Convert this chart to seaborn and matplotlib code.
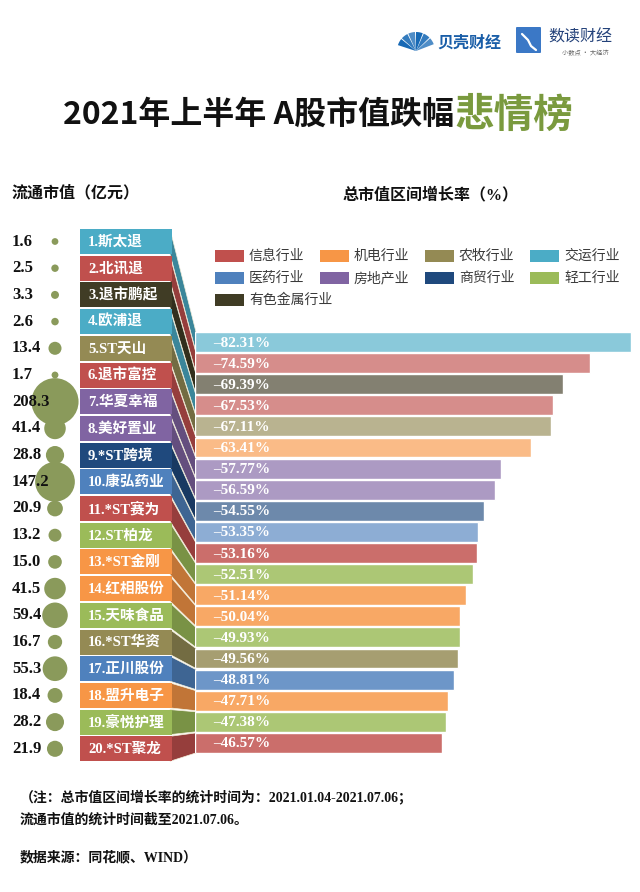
import matplotlib
matplotlib.use("Agg")
import matplotlib.pyplot as plt
import matplotlib.colors as mcolors
from matplotlib.patches import Rectangle, Polygon, Wedge, FancyBboxPatch
import numpy as np
import pandas as pd
import seaborn as sns

# ---- data ----
names = ['斯太退', '北讯退', '退市鹏起', '欧浦退', 'ST天山', '退市富控', '华夏幸福', '美好置业',
         '*ST跨境', '康弘药业', '*ST赛为', 'ST柏龙', '*ST金刚', '红相股份', '天味食品', '*ST华资',
         '正川股份', '盟升电子', '豪悦护理', '*ST聚龙']
float_cap = [1.6, 2.5, 3.3, 2.6, 13.4, 1.7, 208.3, 41.4, 28.8, 147.2,
             20.9, 13.2, 15.0, 41.5, 59.4, 16.7, 55.3, 18.4, 28.2, 21.9]
growth = [-82.31, -74.59, -69.39, -67.53, -67.11, -63.41, -57.77, -56.59, -54.55, -53.35,
          -53.16, -52.51, -51.14, -50.04, -49.93, -49.56, -48.81, -47.71, -47.38, -46.57]
label_industry = ['交运行业', '信息行业', '有色金属行业', '交运行业', '农牧行业', '信息行业', '房地产业',
                  '房地产业', '商贸行业', '医药行业', '信息行业', '轻工行业', '机电行业', '机电行业',
                  '轻工行业', '农牧行业', '医药行业', '机电行业', '轻工行业', '信息行业']
bar_industry = ['交运行业', '信息行业', '有色金属行业', '信息行业', '农牧行业', '机电行业', '房地产业',
                '房地产业', '商贸行业', '医药行业', '信息行业', '轻工行业', '机电行业', '机电行业',
                '轻工行业', '农牧行业', '医药行业', '机电行业', '轻工行业', '信息行业']
industries = ['信息行业', '机电行业', '农牧行业', '交运行业',
              '医药行业', '房地产业', '商贸行业', '轻工行业', '有色金属行业']

palette = {'信息行业': '#c0504d', '机电行业': '#f79646', '农牧行业': '#948a54', '交运行业': '#4bacc6',
           '医药行业': '#4f81bd', '房地产业': '#8064a2', '商贸行业': '#1f497d', '轻工行业': '#9bbb59',
           '有色金属行业': '#403c25'}


def tint(c, t):
    r = np.array(mcolors.to_rgb(c))
    return tuple(r + (1 - r) * t)


def shade(c, f=0.78):
    return tuple(np.array(mcolors.to_rgb(c)) * f)


W, H = 640, 892


def px_rect(x0, y0, x1, y1):
    return [x0 / W, 1 - y1 / H, (x1 - x0) / W, (y1 - y0) / H]


sns.set_style("white")
plt.rcParams['font.family'] = ['Liberation Serif', 'Noto Sans CJK SC']
SANS = ['Noto Sans CJK SC', 'DejaVu Sans']

fig = plt.figure(figsize=(6.4, 8.92), dpi=100)
bg = fig.add_axes([0, 0, 1, 1], zorder=0)
bg.set_xlim(0, W)
bg.set_ylim(H, 0)
bg.axis('off')

n = len(names)

# ---- logos ----
for k in range(6):
    t1 = 198 + k * 24
    bg.add_patch(Wedge((416, 51), 19, t1, t1 + 21, fc=tint('#1769b5', 0.12 * (k % 3)), ec='none'))
bg.text(437, 43, '贝壳财经', family=SANS, fontsize=11.5, weight='bold', color='#1a5ea8', va='center')
bg.add_patch(FancyBboxPatch((517, 28), 23, 24, boxstyle='round,pad=1', fc='#3b78c6', ec='none'))
bg.plot([522, 528, 531, 536], [34, 40, 46, 50], color='white', lw=1.6)
bg.text(548, 37, '数读财经', family=SANS, fontsize=11.5, color='#24427a', va='center')
bg.text(585, 53, '小数点 · 大经济', family=SANS, fontsize=4.5, color='#666666', va='center', ha='center')

# ---- title ----
t_black = bg.text(63, 115, '2021年上半年 A股市值跌幅', family=SANS, fontsize=23, weight='bold',
                  color='#111111', va='center', ha='left')
bg.annotate('悲情榜', xy=(1, 0.5), xycoords=t_black, family=SANS, fontsize=28.5, weight='bold',
            color='#7a9a3e', va='center', ha='left')

# ---- headers ----
bg.text(12, 193, '流通市值（亿元）', fontsize=11.5, weight='bold', color='#111111', va='center')
bg.text(343, 195, '总市值区间增长率（%）', fontsize=11.5, weight='bold', color='#111111', va='center')

# ---- legend ----
for k, ind in enumerate(industries):
    lx = 215 + 105 * (k % 4)
    ly = 256 + 22 * (k // 4)
    bg.add_patch(Rectangle((lx, ly - 6), 29, 12, fc=palette[ind], ec='none'))
    bg.text(lx + 34, ly, ind, family=SANS, fontsize=10, color='#3a3a3a', va='center')

# ---- label boxes and 3D connectors ----
lab_top0, lab_pitch, lab_h = 229, 26.7, 25
bar_top0, bar_pitch, bar_h = 332, 21.1, 20
for i in range(n):
    top = lab_top0 + lab_pitch * i
    bt = bar_top0 + bar_pitch * i
    col = palette[label_industry[i]]
    bg.add_patch(Polygon([(170, top), (196, bt), (196, bt + bar_h), (170, top + lab_h)],
                         closed=True, fc=shade(col), ec='#f4f0dc', lw=0.5, zorder=2 + i))
for i in range(n):
    top = lab_top0 + lab_pitch * i
    col = palette[label_industry[i]]
    bg.add_patch(Rectangle((80, top), 92, lab_h, fc=col, ec='none', zorder=30))
    bg.text(88, top + lab_h / 2 + 0.5, f'{i + 1}.{names[i]}', fontsize=10.5, weight='bold',
            color='white', va='center', zorder=31)

# ---- bubbles: float market cap ----
ax_dot = fig.add_axes(px_rect(0, lab_top0 + lab_h / 2 - lab_pitch / 2, 80,
                              lab_top0 + lab_h / 2 + lab_pitch * (n - 0.5)), zorder=1)
dot_df = pd.DataFrame({'x': np.zeros(n), 'row': np.arange(n), 'cap': float_cap})
sns.scatterplot(data=dot_df, x='x', y='row', size='cap', sizes=(15, 1150), size_norm=(0, 208.3),
                color='#8a9a5b', linewidth=0, legend=False, ax=ax_dot)
ax_dot.set_xlim(-55, 25)
ax_dot.set_ylim(n - 0.5, -0.5)
ax_dot.axis('off')
for i, v in enumerate(float_cap):
    ax_dot.text(-43, i, f'{v:.1f}', fontsize=12, weight='bold', color='#111111', va='center')

# ---- bars: total market cap growth ----
ax_bar = fig.add_axes(px_rect(195, bar_top0 + bar_h / 2 - bar_pitch / 2, 640,
                              bar_top0 + bar_h / 2 + bar_pitch * (n - 0.5)), zorder=1)
bar_df = pd.DataFrame({'name': names, 'drop': np.abs(growth)})
bar_colors = {nm: tint(palette[ind], 0.35 if i < 10 else 0.17)
              for i, (nm, ind) in enumerate(zip(names, bar_industry))}
sns.barplot(data=bar_df, x='drop', y='name', hue='name', palette=bar_colors, orient='h',
            width=0.94, legend=False, ax=ax_bar, saturation=1)
ax_bar.set_xlim(0, 445 / 5.3)
ax_bar.set_ylim(n - 0.5, -0.5)
ax_bar.axis('off')
for i, v in enumerate(growth):
    ax_bar.text(3.4, i + 0.05, f'–{abs(v):.2f}%', fontsize=11, weight='bold', color='white', va='center')

# ---- notes ----
bg.text(20, 797, '（注：总市值区间增长率的统计时间为：2021.01.04-2021.07.06；', fontsize=10,
        weight='bold', color='#111111', va='center')
bg.text(20, 820, '流通市值的统计时间截至2021.07.06。', fontsize=10, weight='bold', color='#111111',
        va='center')
bg.text(20, 858, '数据来源：同花顺、WIND）', fontsize=10, weight='bold', color='#111111', va='center')

fig.savefig('out.png', dpi=100)
